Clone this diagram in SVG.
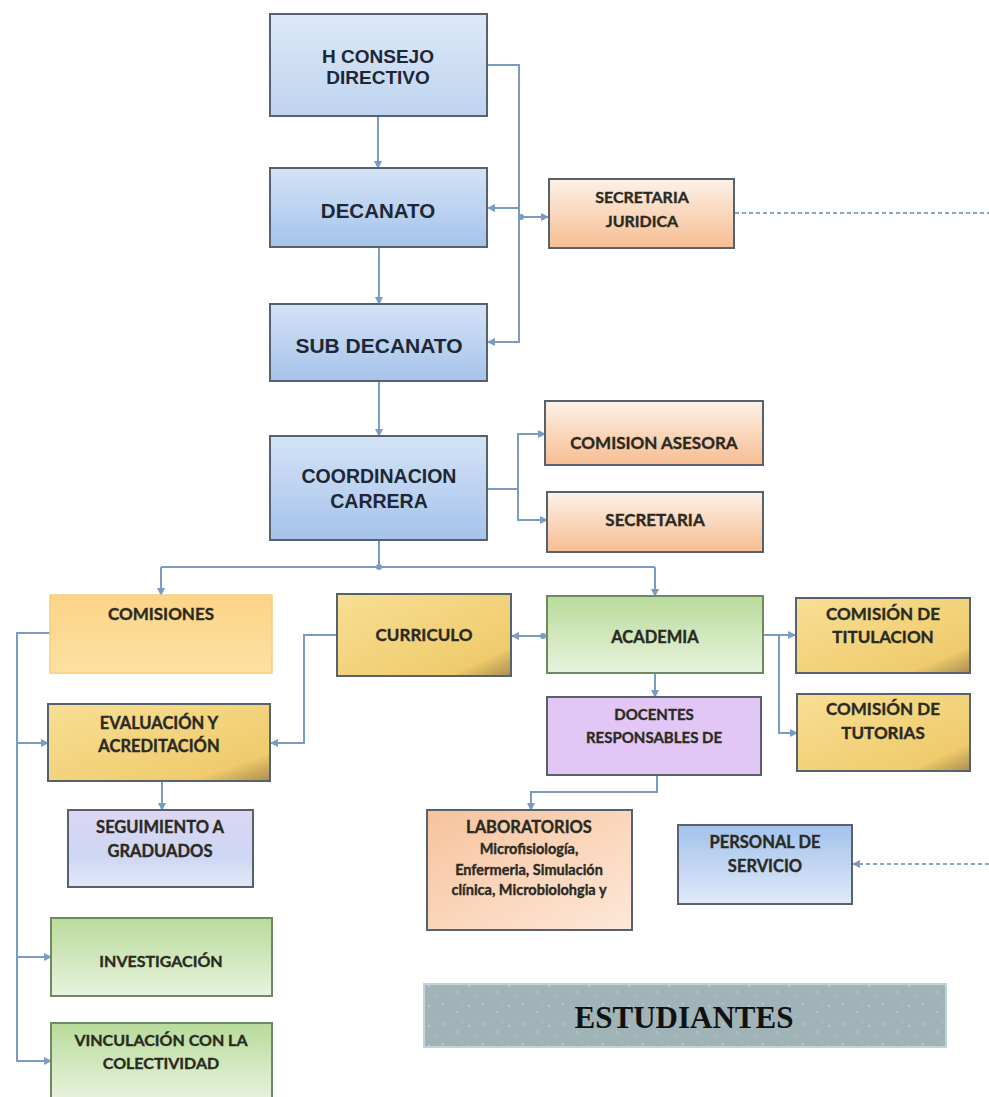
<svg xmlns="http://www.w3.org/2000/svg" width="989" height="1097" viewBox="0 0 989 1097">
<style>
  .box { stroke: #56626e; stroke-width: 2; }
  .big { font-family: "Liberation Sans", Arial, sans-serif; font-weight: 700; fill: #1d2735; text-anchor: middle; }
  .lbl { font-family: Lato, "Open Sans", sans-serif; font-weight: 700; fill: #2a2a22; stroke: #2a2a22; stroke-width: 0.35; text-anchor: middle; }
  .con { fill: none; stroke: #7a9cc2; stroke-width: 2; }
  .dash { fill: none; stroke: #8aa6c6; stroke-width: 2; stroke-dasharray: 4 3; }
  .dot { fill: #7a9cc2; }
</style>
<defs>
  <marker id="arr" viewBox="0 0 8 8" refX="7" refY="4" markerWidth="8" markerHeight="8" markerUnits="userSpaceOnUse" orient="auto">
    <path d="M0,0 L8,4 L0,8 z" fill="#7a9cc2"/>
  </marker>
  <linearGradient id="gBlueL" x1="0" y1="0" x2="0" y2="1">
    <stop offset="0" stop-color="#dde9f8"/><stop offset="1" stop-color="#bed3ef"/>
  </linearGradient>
  <linearGradient id="gBlue" x1="0" y1="0" x2="0" y2="1">
    <stop offset="0" stop-color="#d4e3f6"/><stop offset="1" stop-color="#a6c3eb"/>
  </linearGradient>
  <linearGradient id="gBlueUp" x1="0" y1="0" x2="0" y2="1">
    <stop offset="0" stop-color="#a3c2ec"/><stop offset="1" stop-color="#dfe9f8"/>
  </linearGradient>
  <linearGradient id="gOrange" x1="0" y1="0" x2="0" y2="1">
    <stop offset="0" stop-color="#fdf1e7"/><stop offset="1" stop-color="#f6bd92"/>
  </linearGradient>
  <linearGradient id="gPeach" x1="0" y1="0" x2="1" y2="1">
    <stop offset="0" stop-color="#f7c29c"/><stop offset="1" stop-color="#fde8d9"/>
  </linearGradient>
  <linearGradient id="gGold" x1="0" y1="0" x2="1" y2="1">
    <stop offset="0" stop-color="#f8df95"/><stop offset="0.82" stop-color="#efcb6c"/><stop offset="1" stop-color="#a98e50"/>
  </linearGradient>
  <linearGradient id="gYel" x1="0" y1="0" x2="0" y2="1">
    <stop offset="0" stop-color="#fcd486"/><stop offset="1" stop-color="#fde0a2"/>
  </linearGradient>
  <linearGradient id="gGreen" x1="0" y1="0" x2="0" y2="1">
    <stop offset="0" stop-color="#b8db9a"/><stop offset="1" stop-color="#e8f3de"/>
  </linearGradient>
  <linearGradient id="gLav" x1="0" y1="0" x2="0" y2="1">
    <stop offset="0" stop-color="#ddd6f4"/><stop offset="0.6" stop-color="#cdd6f3"/><stop offset="1" stop-color="#e4e8f8"/>
  </linearGradient>
  <pattern id="noise" x="0" y="0" width="40" height="20" patternUnits="userSpaceOnUse">
    <rect width="40" height="20" fill="#a0b3b7"/>
    <circle cx="3" cy="4" r="0.8" fill="#d5e0e2"/>
    <circle cx="17" cy="12" r="0.7" fill="#d5e0e2"/>
    <circle cx="29" cy="6" r="0.9" fill="#c9d6d8"/>
    <circle cx="35" cy="16" r="0.6" fill="#d5e0e2"/>
    <circle cx="10" cy="17" r="0.6" fill="#c9d6d8"/>
    <circle cx="23" cy="2" r="0.5" fill="#d5e0e2"/>
  </pattern>
</defs>

<rect width="989" height="1097" fill="#ffffff"/>

<g id="connectors">
  <path class="con" d="M378,116 V168" marker-end="url(#arr)"/>
  <path class="con" d="M487,65 H519 V342 H488" marker-end="url(#arr)"/>
  <path class="con" d="M519,208 H488" marker-end="url(#arr)"/>
  <path class="con" d="M519,217 H548" marker-end="url(#arr)"/>
  <circle class="dot" cx="521" cy="217" r="3"/>
  <path class="dash" d="M735,213 H989"/>
  <path class="con" d="M379,247 V304" marker-end="url(#arr)"/>
  <path class="con" d="M379,381 V436" marker-end="url(#arr)"/>
  <path class="con" d="M487,489 H518 V434 H545" marker-end="url(#arr)"/>
  <path class="con" d="M518,489 V520 H547" marker-end="url(#arr)"/>
  <path class="con" d="M379,540 V567"/>
  <circle class="dot" cx="379" cy="567" r="3"/>
  <path class="con" d="M161,567 H655"/>
  <path class="con" d="M161,567 V595" marker-end="url(#arr)"/>
  <path class="con" d="M655,567 V596" marker-end="url(#arr)"/>
  <path class="con" d="M50,633 H17 V1061 H51" marker-end="url(#arr)"/>
  <path class="con" d="M17,743 H48" marker-end="url(#arr)"/>
  <path class="con" d="M17,957 H51" marker-end="url(#arr)"/>
  <path class="con" d="M337,635 H304 V743 H271" marker-end="url(#arr)"/>
  <path class="con" d="M547,636 H512" marker-end="url(#arr)"/>
  <circle class="dot" cx="543" cy="636" r="3"/>
  <path class="con" d="M763,635 H795" marker-end="url(#arr)"/>
  <path class="con" d="M779,635 V733 H797" marker-end="url(#arr)"/>
  <path class="con" d="M655,673 V697" marker-end="url(#arr)"/>
  <path class="con" d="M657,775 V792 H531 V810" marker-end="url(#arr)"/>
  <path class="con" d="M162,781 V810" marker-end="url(#arr)"/>
  <path class="dash" d="M989,864 H853" marker-end="url(#arr)"/>
</g>

<g id="n-consejo">
  <rect class="box" x="270" y="14" width="217" height="102" fill="url(#gBlueL)"/>
  <text class="big" x="378" y="63" font-size="19">H CONSEJO</text>
  <text class="big" x="378" y="84" font-size="19">DIRECTIVO</text>
</g>
<g id="n-decanato">
  <rect class="box" x="270" y="168" width="217" height="79" fill="url(#gBlue)"/>
  <text class="big" x="378" y="218" font-size="20.5">DECANATO</text>
</g>
<g id="n-secjuridica">
  <rect class="box" x="549" y="179" width="185" height="69" fill="url(#gOrange)"/>
  <text class="lbl" x="642" y="203" font-size="16">SECRETARIA</text>
  <text class="lbl" x="642" y="227" font-size="16">JURIDICA</text>
</g>
<g id="n-subdecanato">
  <rect class="box" x="270" y="304" width="217" height="77" fill="url(#gBlue)"/>
  <text class="big" x="379" y="353" font-size="21">SUB DECANATO</text>
</g>
<g id="n-coordinacion">
  <rect class="box" x="270" y="436" width="217" height="104" fill="url(#gBlue)"/>
  <text class="big" x="379" y="483" font-size="19.5">COORDINACION</text>
  <text class="big" x="379" y="508" font-size="19.5">CARRERA</text>
</g>
<g id="n-comasesora">
  <rect class="box" x="545" y="401" width="218" height="64" fill="url(#gOrange)"/>
  <text class="lbl" x="654" y="449" font-size="17">COMISION ASESORA</text>
</g>
<g id="n-secretaria">
  <rect class="box" x="547" y="492" width="216" height="60" fill="url(#gOrange)"/>
  <text class="lbl" x="655" y="526" font-size="17">SECRETARIA</text>
</g>
<g id="n-comisiones">
  <rect x="50" y="595" width="222" height="78" fill="url(#gYel)" stroke="#f6cf7c" stroke-width="1.5"/>
  <text class="lbl" x="161" y="620" font-size="17">COMISIONES</text>
</g>
<g id="n-curriculo">
  <rect class="box" x="337" y="594" width="174" height="82" fill="url(#gGold)"/>
  <text class="lbl" x="424" y="641" font-size="17">CURRICULO</text>
</g>
<g id="n-academia">
  <rect x="547" y="596" width="216" height="77" fill="url(#gGreen)" stroke="#6f8a5e" stroke-width="2"/>
  <text class="lbl" x="655" y="643" font-size="16.5">ACADEMIA</text>
</g>
<g id="n-titulacion">
  <rect class="box" x="796" y="598" width="174" height="75" fill="url(#gGold)"/>
  <text class="lbl" x="883" y="620" font-size="17">COMISIÓN DE</text>
  <text class="lbl" x="883" y="643" font-size="17">TITULACION</text>
</g>
<g id="n-tutorias">
  <rect class="box" x="797" y="694" width="173" height="77" fill="url(#gGold)"/>
  <text class="lbl" x="883" y="715" font-size="17">COMISIÓN DE</text>
  <text class="lbl" x="883" y="739" font-size="17">TUTORIAS</text>
</g>
<g id="n-evaluacion">
  <rect class="box" x="48" y="704" width="222" height="77" fill="url(#gGold)"/>
  <text class="lbl" x="159" y="729" font-size="16.5">EVALUACIÓN Y</text>
  <text class="lbl" x="159" y="752" font-size="16.5">ACREDITACIÓN</text>
</g>
<g id="n-docentes">
  <rect class="box" x="547" y="697" width="214" height="78" fill="#e2c7f6"/>
  <text class="lbl" x="654" y="720" font-size="15">DOCENTES</text>
  <text class="lbl" x="654" y="743" font-size="15">RESPONSABLES DE</text>
</g>
<g id="n-seguimiento">
  <rect class="box" x="68" y="810" width="185" height="77" fill="url(#gLav)"/>
  <text class="lbl" x="160" y="833" font-size="16.5">SEGUIMIENTO A</text>
  <text class="lbl" x="160" y="857" font-size="16.5">GRADUADOS</text>
</g>
<g id="n-laboratorios">
  <rect class="box" x="427" y="810" width="205" height="120" fill="url(#gPeach)"/>
  <text class="lbl" x="529" y="833" font-size="16.5">LABORATORIOS</text>
  <text class="lbl" x="529" y="854" font-size="14.5">Microfisiología,</text>
  <text class="lbl" x="529" y="875" font-size="14.5">Enfermeria, Simulación</text>
  <text class="lbl" x="529" y="895" font-size="14.5">clínica, Microbiolohgia y</text>
</g>
<g id="n-personal">
  <rect class="box" x="678" y="825" width="174" height="79" fill="url(#gBlueUp)"/>
  <text class="lbl" x="765" y="848" font-size="16.5">PERSONAL DE</text>
  <text class="lbl" x="765" y="872" font-size="16.5">SERVICIO</text>
</g>
<g id="n-investigacion">
  <rect x="51" y="918" width="221" height="78" fill="url(#gGreen)" stroke="#6f8a5e" stroke-width="2"/>
  <text class="lbl" x="161" y="967" font-size="16">INVESTIGACIÓN</text>
</g>
<g id="n-vinculacion">
  <rect x="51" y="1023" width="221" height="78" fill="url(#gGreen)" stroke="#6f8a5e" stroke-width="2"/>
  <text class="lbl" x="161" y="1046" font-size="16">VINCULACIÓN CON LA</text>
  <text class="lbl" x="161" y="1069" font-size="16">COLECTIVIDAD</text>
</g>
<g id="n-estudiantes">
  <rect x="424" y="984" width="522" height="63" fill="url(#noise)" stroke="#bcd6dc" stroke-width="2"/>
  <text x="684" y="1028" font-family="'Liberation Serif', 'Times New Roman', serif" font-weight="700" font-size="31" fill="#111" text-anchor="middle">ESTUDIANTES</text>
</g>
</svg>
